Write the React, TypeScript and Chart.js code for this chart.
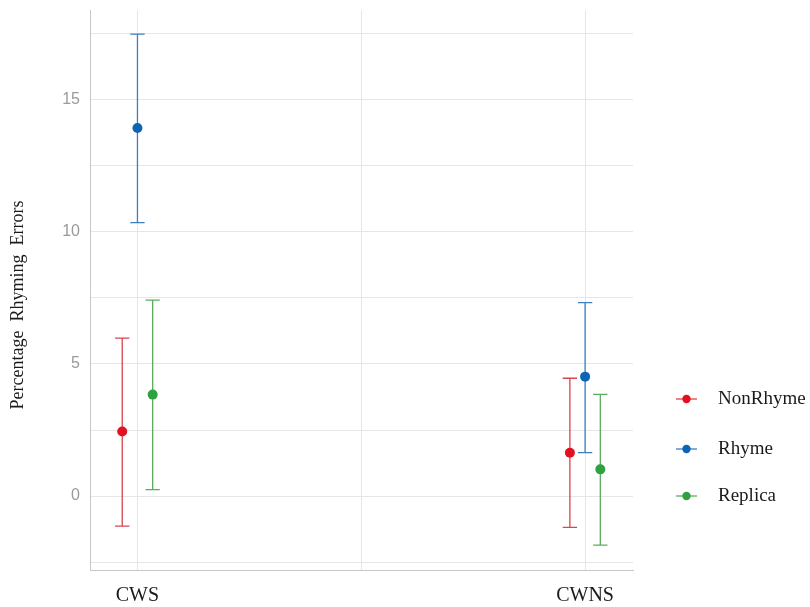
import React, { useEffect, useRef } from "react";
import { Chart, registerables } from "chart.js";

Chart.register(...registerables);

const categories = ["CWS", "CWNS"];
const categoryX = [1, 2];
const seriesNames = ["NonRhyme", "Rhyme", "Replica"];
const dodgeOffsets = [-0.034, 0, 0.034];

const nonRhymeMean = [2.44, 1.64];
const nonRhymeLow = [-1.14, -1.19];
const nonRhymeHigh = [5.98, 4.46];

const rhymeMean = [13.93, 4.52];
const rhymeLow = [10.35, 1.64];
const rhymeHigh = [17.49, 7.32];

const replicaMean = [3.84, 1.01];
const replicaLow = [0.24, -1.86];
const replicaHigh = [7.42, 3.85];

const yTicks = [-2.5, 0, 2.5, 5, 7.5, 10, 12.5, 15, 17.5];
const xTicks = [1, 1.5, 2];

const pointColors = ["#e3101f", "#0c65b2", "#2fa13f"];
const lineColors = ["#d9444d", "#3d7fbe", "#5aad5c"];

const means = [nonRhymeMean, rhymeMean, replicaMean];
const lows = [nonRhymeLow, rhymeLow, replicaLow];
const highs = [nonRhymeHigh, rhymeHigh, replicaHigh];

const errorBarPlugin = {
  id: "errorBars",
  beforeDatasetsDraw(chart: any) {
    const { ctx, scales } = chart;
    const xs = scales.x;
    const ys = scales.y;
    ctx.save();
    seriesNames.forEach((_, s) => {
      ctx.strokeStyle = lineColors[s];
      ctx.lineWidth = 1.3;
      categoryX.forEach((cx, i) => {
        const px = xs.getPixelForValue(cx + dodgeOffsets[s]);
        const capHalf = xs.getPixelForValue(cx + dodgeOffsets[s] + 0.016) - px;
        const yLo = ys.getPixelForValue(lows[s][i]);
        const yHi = ys.getPixelForValue(highs[s][i]);
        ctx.beginPath();
        ctx.moveTo(px, yLo);
        ctx.lineTo(px, yHi);
        ctx.moveTo(px - capHalf, yLo);
        ctx.lineTo(px + capHalf, yLo);
        ctx.moveTo(px - capHalf, yHi);
        ctx.lineTo(px + capHalf, yHi);
        ctx.stroke();
      });
    });
    ctx.restore();
  },
  afterDraw(chart: any) {
    const { ctx } = chart;
    ctx.save();
    // y-axis title
    ctx.translate(18, 305);
    ctx.rotate(-Math.PI / 2);
    ctx.font = "18px 'Liberation Serif', serif";
    ctx.fillStyle = "#1a1a1a";
    ctx.textAlign = "center";
    ctx.textBaseline = "middle";
    ctx.fillText("Percentage  Rhyming  Errors", 0, 0);
    ctx.restore();

    // legend
    ctx.save();
    const legendY = [399, 449, 496];
    seriesNames.forEach((name, s) => {
      const y = legendY[s];
      ctx.strokeStyle = lineColors[s];
      ctx.lineWidth = 1.3;
      ctx.beginPath();
      ctx.moveTo(676, y);
      ctx.lineTo(697, y);
      ctx.stroke();
      ctx.fillStyle = pointColors[s];
      ctx.beginPath();
      ctx.arc(686.5, y, 4.2, 0, Math.PI * 2);
      ctx.fill();
      ctx.font = "19px 'Liberation Serif', serif";
      ctx.fillStyle = "#1a1a1a";
      ctx.textAlign = "left";
      ctx.textBaseline = "middle";
      ctx.fillText(name, 718, y);
    });
    ctx.restore();
  },
};

export default function App() {
  const canvasRef = useRef<HTMLCanvasElement | null>(null);

  useEffect(() => {
    document.body.style.margin = "0";
    const canvas = canvasRef.current;
    if (!canvas) return;
    const datasets = seriesNames.map((name, s) => ({
      label: name,
      data: means[s].map((m, i) => ({ x: categoryX[i] + dodgeOffsets[s], y: m })),
      backgroundColor: pointColors[s],
      borderColor: pointColors[s],
      borderWidth: 0,
      pointRadius: 5,
      pointHoverRadius: 5,
      showLine: false,
    }));
    const chart = new Chart(canvas, {
      type: "scatter",
      data: { datasets },
      plugins: [errorBarPlugin],
      options: {
        animation: false,
        responsive: false,
        maintainAspectRatio: false,
        layout: { padding: { top: 10, right: 177, left: 0, bottom: 0 } },
        plugins: { legend: { display: false }, tooltip: { enabled: false } },
        scales: {
          x: {
            type: "linear",
            min: 0.894,
            max: 2.107,
            afterBuildTicks: (scale: any) => {
              scale.ticks = xTicks.map((v) => ({ value: v }));
            },
            afterFit: (scale: any) => {
              scale.height = 37;
              scale.paddingLeft = 0;
              scale.paddingRight = 0;
            },
            ticks: {
              autoSkip: false,
              maxRotation: 0,
              padding: 14,
              color: "#1a1a1a",
              font: { family: "'Liberation Serif', serif", size: 20 },
              callback: (value: any) => {
                const idx = categoryX.indexOf(Number(value));
                return idx >= 0 ? categories[idx] : "";
              },
            },
            grid: { color: "#e6e6e6", lineWidth: 1, drawTicks: false },
            border: { display: true, color: "#c8c8c8", width: 1 },
          },
          y: {
            type: "linear",
            min: -2.8,
            max: 18.4,
            afterBuildTicks: (scale: any) => {
              scale.ticks = yTicks.map((v) => ({ value: v }));
            },
            afterFit: (scale: any) => {
              scale.width = 90;
              scale.paddingTop = 0;
              scale.paddingBottom = 0;
            },
            ticks: {
              autoSkip: false,
              padding: 10,
              color: "#9a9a9a",
              font: { family: "'Liberation Sans', Arial, sans-serif", size: 16 },
              callback: (value: any) => (Number(value) % 5 === 0 ? String(value) : ""),
            },
            grid: { color: "#e6e6e6", lineWidth: 1, drawTicks: false },
            border: { display: true, color: "#c8c8c8", width: 1 },
          },
        },
      },
    });
    return () => chart.destroy();
  }, []);

  return (
    <div style={{ width: 810, height: 607, background: "#ffffff" }}>
      <canvas ref={canvasRef} width={810} height={607} />
    </div>
  );
}
